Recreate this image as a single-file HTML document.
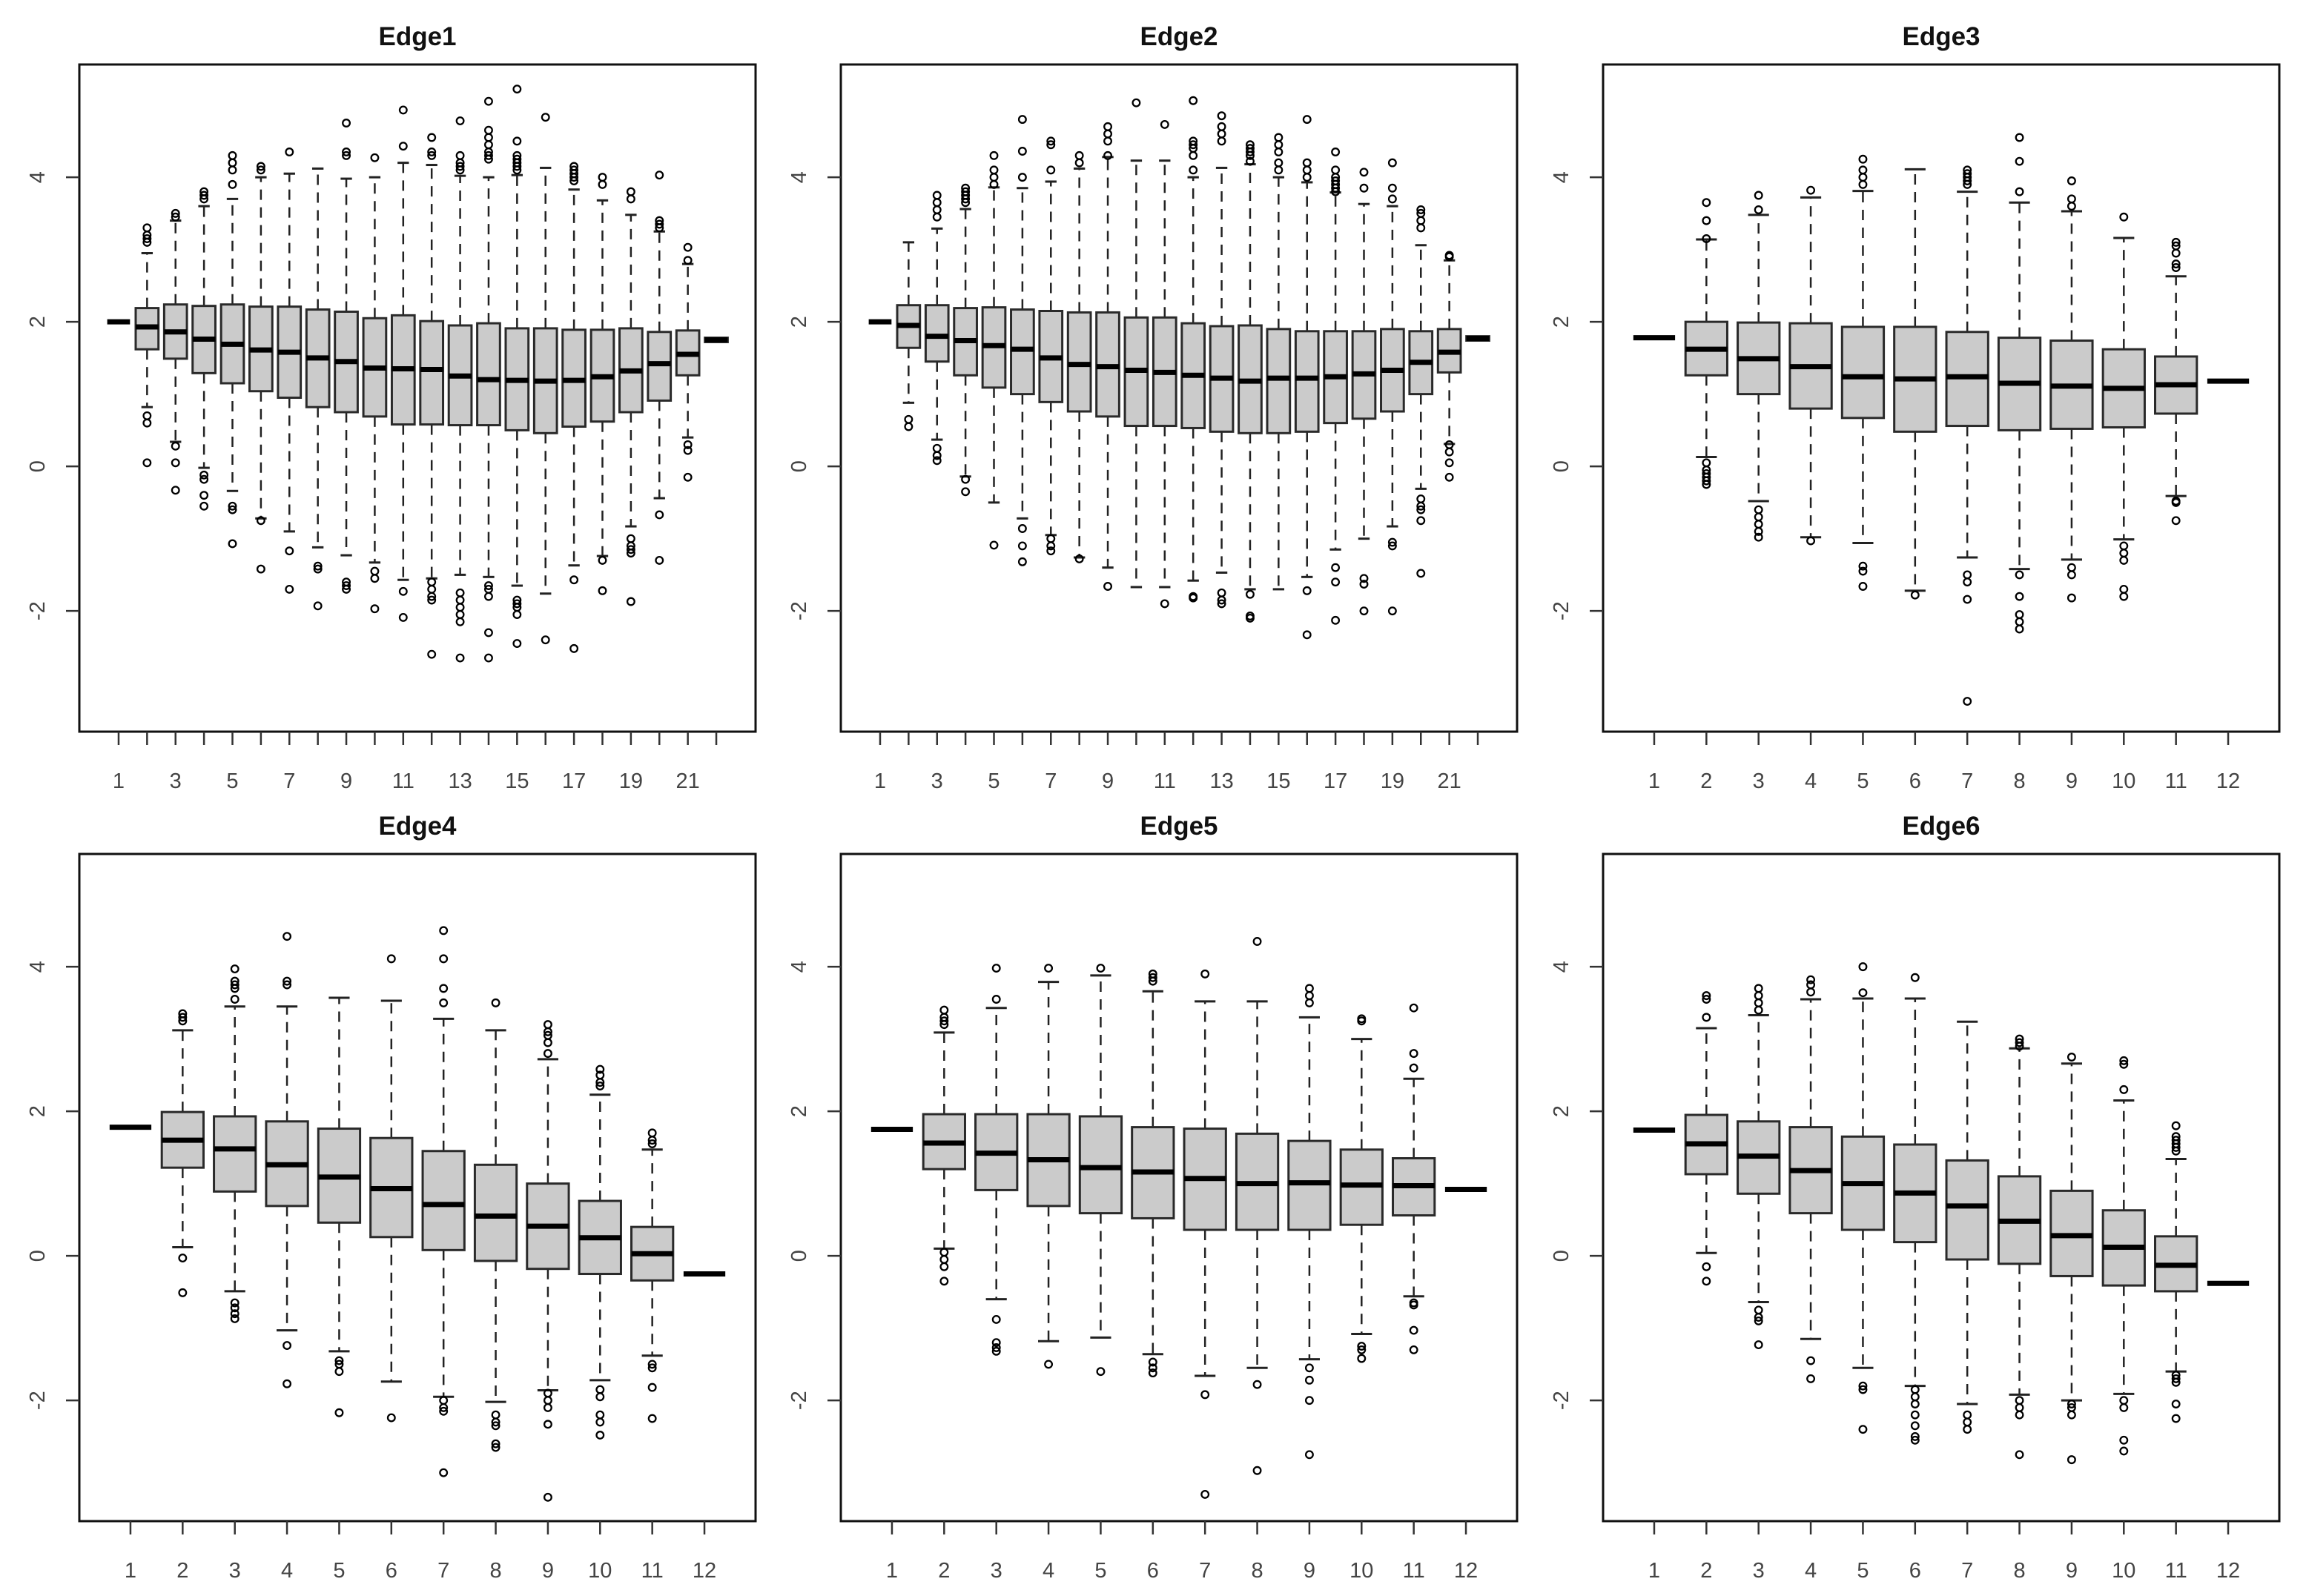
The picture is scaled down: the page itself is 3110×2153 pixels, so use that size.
<!DOCTYPE html>
<html><head><meta charset="utf-8"><style>
html,body{margin:0;padding:0;background:#fff;}
svg{display:block;}
text{font-family:"Liberation Sans",sans-serif;}
</style></head>
<body>
<svg id="chart" width="3110" height="2153" viewBox="0 0 3110 2153" xmlns="http://www.w3.org/2000/svg"></svg>
<script>
// ---- Data (one set of small arrays per panel) ----
const yTicks = [-2, 0, 2, 4];
const yMin = -3.67, yMax = 5.56;

const e1Med = [2.0,1.93,1.86,1.76,1.69,1.61,1.58,1.5,1.45,1.36,1.35,1.34,1.25,1.2,1.19,1.18,1.19,1.24,1.32,1.42,1.55,1.75];
const e1Q1  = [2.0,1.62,1.49,1.29,1.15,1.04,0.95,0.82,0.75,0.69,0.58,0.58,0.57,0.57,0.5,0.46,0.55,0.62,0.75,0.91,1.26,1.72];
const e1Q3  = [2.0,2.19,2.24,2.22,2.24,2.21,2.21,2.17,2.14,2.05,2.09,2.01,1.95,1.98,1.91,1.91,1.89,1.89,1.91,1.86,1.88,1.78];
const e1Lo  = [2.0,0.82,0.34,-0.02,-0.34,-0.72,-0.9,-1.12,-1.23,-1.33,-1.57,-1.55,-1.5,-1.53,-1.65,-1.76,-1.37,-1.24,-0.83,-0.44,0.4,1.72];
const e1Hi  = [2.0,2.95,3.4,3.6,3.7,4.0,4.05,4.12,3.98,4.0,4.2,4.17,4.02,4.0,4.03,4.13,3.83,3.68,3.48,3.25,2.8,1.78];
const e1Out = [[],[3.1,3.15,3.2,3.3,0.6,0.7,0.05],[3.5,3.45,0.28,0.05,-0.33],[3.7,3.75,3.8,-0.12,-0.18,-0.4,-0.55],[3.9,4.1,4.2,4.3,-0.55,-0.6,-1.07],[4.1,4.15,-0.75,-1.42],[4.35,-1.17,-1.7],[-1.38,-1.42,-1.93],[4.3,4.35,4.75,-1.6,-1.65,-1.7],[4.27,-1.45,-1.55,-1.97],[4.43,4.93,-1.73,-2.09],[4.3,4.35,4.55,-1.6,-1.7,-1.8,-1.85,-2.6],[4.1,4.15,4.2,4.3,4.78,-1.75,-1.85,-1.95,-2.05,-2.15,-2.65],[4.25,4.3,4.35,4.45,4.55,4.65,5.05,-1.65,-1.7,-1.8,-2.3,-2.65],[4.1,4.15,4.2,4.25,4.3,4.5,5.22,-1.85,-1.9,-1.95,-2.05,-2.45],[4.83,-2.4],[3.95,4.0,4.05,4.1,4.15,-1.57,-2.52],[3.9,4.0,-1.3,-1.72],[3.7,3.8,-1.0,-1.1,-1.15,-1.2,-1.87],[3.3,3.35,3.4,4.03,-0.67,-1.3],[2.85,3.03,0.3,0.22,-0.15],[]];

const e2Med = [2.0,1.95,1.8,1.74,1.67,1.62,1.5,1.41,1.38,1.33,1.3,1.26,1.22,1.18,1.22,1.22,1.24,1.28,1.33,1.44,1.58,1.77];
const e2Q1  = [2.0,1.64,1.45,1.26,1.09,1.0,0.89,0.76,0.69,0.56,0.56,0.53,0.48,0.46,0.46,0.48,0.6,0.66,0.76,1.0,1.3,1.74];
const e2Q3  = [2.0,2.23,2.23,2.19,2.2,2.17,2.15,2.13,2.13,2.06,2.06,1.98,1.94,1.95,1.9,1.87,1.87,1.87,1.9,1.87,1.9,1.8];
const e2Lo  = [2.0,0.88,0.37,-0.14,-0.5,-0.72,-0.95,-1.26,-1.4,-1.67,-1.67,-1.58,-1.47,-1.7,-1.7,-1.53,-1.15,-1.0,-0.83,-0.31,0.31,1.74];
const e2Hi  = [2.0,3.1,3.29,3.56,3.86,3.85,3.94,4.12,4.28,4.23,4.23,4.0,4.13,4.18,4.0,3.93,3.79,3.63,3.6,3.06,2.85,1.8];
const e2Out = [[],[0.65,0.55],[3.45,3.55,3.65,3.75,0.25,0.15,0.08],[3.65,3.7,3.75,3.8,3.85,-0.18,-0.35],[3.9,4.0,4.1,4.3,-1.09],[4.0,4.36,4.8,-0.86,-1.1,-1.32],[4.1,4.45,4.5,-1.0,-1.1,-1.17],[4.2,4.3,-1.28],[4.3,4.5,4.6,4.7,-1.66],[5.03],[4.73,-1.9],[4.1,4.3,4.4,4.45,4.5,5.06,-1.8,-1.82],[4.5,4.6,4.7,4.85,-1.75,-1.85,-1.9],[4.22,4.3,4.35,4.4,4.45,-1.77,-2.07,-2.1],[4.1,4.2,4.35,4.45,4.55],[4.0,4.1,4.2,4.8,-1.72,-2.33],[3.8,3.85,3.9,3.95,4.0,4.1,4.35,-1.4,-1.6,-2.13],[3.85,4.07,-1.55,-1.63,-2.0],[3.7,3.85,4.2,-1.05,-1.1,-2.0],[3.3,3.4,3.5,3.55,-0.45,-0.55,-0.6,-0.75,-1.48],[2.9,2.92,0.3,0.2,0.05,-0.15],[]];

const e3Med = [1.78,1.62,1.49,1.38,1.24,1.21,1.24,1.15,1.11,1.08,1.13,1.18];
const e3Q1  = [1.78,1.26,1.0,0.8,0.67,0.48,0.56,0.5,0.52,0.54,0.73,1.16];
const e3Q3  = [1.78,2.0,1.99,1.98,1.93,1.93,1.86,1.78,1.74,1.62,1.52,1.2];
const e3Lo  = [1.78,0.13,-0.48,-0.98,-1.06,-1.72,-1.26,-1.42,-1.29,-1.01,-0.41,1.16];
const e3Hi  = [1.78,3.14,3.48,3.72,3.81,4.11,3.8,3.65,3.53,3.16,2.63,1.2];
const e3Out = [[],[3.15,3.4,3.65,0.05,-0.05,-0.1,-0.15,-0.2,-0.25],[3.55,3.75,-0.6,-0.7,-0.8,-0.9,-0.98],[3.82,-1.03],[3.9,4.0,4.1,4.25,-1.38,-1.45,-1.66],[-1.78],[3.9,3.95,4.0,4.05,4.1,-1.5,-1.6,-1.84,-3.25],[3.8,4.22,4.55,-1.5,-1.8,-2.05,-2.15,-2.25],[3.6,3.7,3.95,-1.4,-1.5,-1.82],[3.45,-1.1,-1.2,-1.3,-1.7,-1.8],[2.75,2.8,2.95,3.05,3.1,-0.48,-0.5,-0.75],[]];

const e4Med = [1.78,1.6,1.48,1.26,1.09,0.93,0.71,0.55,0.41,0.25,0.03,-0.25];
const e4Q1  = [1.78,1.22,0.89,0.69,0.46,0.26,0.08,-0.07,-0.18,-0.25,-0.34,-0.27];
const e4Q3  = [1.78,1.99,1.93,1.86,1.76,1.63,1.45,1.26,1.0,0.76,0.4,-0.23];
const e4Lo  = [1.78,0.12,-0.49,-1.03,-1.32,-1.74,-1.95,-2.02,-1.86,-1.72,-1.38,-0.27];
const e4Hi  = [1.78,3.12,3.45,3.45,3.57,3.53,3.28,3.12,2.72,2.23,1.47,-0.23];
const e4Out = [[],[3.25,3.3,3.35,-0.03,-0.51],[3.55,3.7,3.75,3.8,3.97,-0.65,-0.72,-0.8,-0.87],[3.75,3.8,4.42,-1.24,-1.77],[-1.45,-1.5,-1.6,-2.17],[4.11,-2.24],[3.5,3.7,4.11,4.5,-2.0,-2.1,-2.15,-3.0],[3.5,-2.2,-2.3,-2.35,-2.6,-2.65],[2.8,2.95,3.05,3.1,3.2,-1.9,-2.0,-2.1,-2.33,-3.34],[2.35,2.4,2.5,2.58,-1.85,-1.95,-2.2,-2.3,-2.48],[1.55,1.6,1.7,-1.5,-1.55,-1.82,-2.25],[]];

const e5Med = [1.75,1.56,1.42,1.33,1.22,1.16,1.07,1.0,1.01,0.98,0.97,0.92];
const e5Q1  = [1.75,1.2,0.91,0.69,0.59,0.52,0.36,0.36,0.36,0.43,0.56,0.9];
const e5Q3  = [1.75,1.96,1.96,1.96,1.93,1.78,1.76,1.69,1.59,1.47,1.35,0.94];
const e5Lo  = [1.75,0.1,-0.6,-1.18,-1.13,-1.36,-1.66,-1.55,-1.43,-1.08,-0.56,0.9];
const e5Hi  = [1.75,3.09,3.43,3.79,3.88,3.66,3.52,3.52,3.3,3.0,2.45,0.94];
const e5Out = [[],[3.2,3.25,3.3,3.4,0.05,-0.05,-0.15,-0.35],[3.55,3.98,-0.88,-1.2,-1.27,-1.32],[3.98,-1.5],[3.98,-1.6],[3.8,3.85,3.9,-1.47,-1.55,-1.62],[3.9,-1.92,-3.3],[4.35,-1.78,-2.97],[3.5,3.6,3.7,-1.55,-1.72,-2.0,-2.75],[3.25,3.28,-1.25,-1.3,-1.42],[2.6,2.8,3.43,-0.65,-0.68,-1.03,-1.3],[]];

const e6Med = [1.74,1.55,1.38,1.18,1.0,0.87,0.69,0.48,0.28,0.12,-0.13,-0.38];
const e6Q1  = [1.74,1.13,0.86,0.59,0.36,0.19,-0.05,-0.11,-0.28,-0.41,-0.49,-0.4];
const e6Q3  = [1.74,1.95,1.86,1.78,1.65,1.54,1.32,1.1,0.9,0.63,0.27,-0.36];
const e6Lo  = [1.74,0.04,-0.64,-1.15,-1.55,-1.8,-2.05,-1.92,-2.0,-1.91,-1.6,-0.4];
const e6Hi  = [1.74,3.15,3.33,3.55,3.56,3.56,3.24,2.87,2.66,2.15,1.34,-0.36];
const e6Out = [[],[3.3,3.55,3.6,-0.15,-0.35],[3.4,3.5,3.6,3.7,-0.75,-0.85,-0.9,-1.23],[3.65,3.75,3.82,-1.45,-1.7],[3.64,4.0,-1.8,-1.85,-2.4],[3.85,-1.85,-1.95,-2.05,-2.2,-2.35,-2.5,-2.55],[-2.2,-2.3,-2.4],[2.9,2.95,3.0,-2.0,-2.1,-2.2,-2.75],[2.75,-2.05,-2.1,-2.2,-2.82],[2.3,2.65,2.7,-2.0,-2.1,-2.55,-2.7],[1.45,1.5,1.55,1.6,1.65,1.8,-1.65,-1.7,-1.75,-2.05,-2.25],[]];

const titles = ["Edge1","Edge2","Edge3","Edge4","Edge5","Edge6"];

// ---- Rendering ----
const NS = "http://www.w3.org/2000/svg";
const svg = document.getElementById("chart");
function mk(tag, attrs, parent){
  const el = document.createElementNS(NS, tag);
  for (const k in attrs) el.setAttribute(k, attrs[k]);
  (parent||svg).appendChild(el);
  return el;
}
const panels = [
  {left:107, top:87, med:e1Med,q1:e1Q1,q3:e1Q3,lo:e1Lo,hi:e1Hi,out:e1Out},
  {left:1134,top:87, med:e2Med,q1:e2Q1,q3:e2Q3,lo:e2Lo,hi:e2Hi,out:e2Out},
  {left:2162,top:87, med:e3Med,q1:e3Q1,q3:e3Q3,lo:e3Lo,hi:e3Hi,out:e3Out},
  {left:107, top:1152,med:e4Med,q1:e4Q1,q3:e4Q3,lo:e4Lo,hi:e4Hi,out:e4Out},
  {left:1134,top:1152,med:e5Med,q1:e5Q1,q3:e5Q3,lo:e5Lo,hi:e5Hi,out:e5Out},
  {left:2162,top:1152,med:e6Med,q1:e6Q1,q3:e6Q3,lo:e6Lo,hi:e6Hi,out:e6Out}
];
const W = 912, H = 900;
panels.forEach((p, pi) => {
  const n = p.med.length;
  const x0 = 0.5 - 0.04*n, x1 = n + 0.5 + 0.04*n;
  const xs = v => p.left + (v - x0) / (x1 - x0) * W;
  const ys = v => p.top + (yMax - v) / (yMax - yMin) * H;
  const unit = W / (x1 - x0);
  const g = mk("g", {});
  
  

  const t = mk("text", {x: p.left + W/2, y: p.top - 26, "text-anchor":"middle", "font-size":"35", "font-weight":"bold", fill:"#111"}, g);
  t.textContent = titles[pi];
  
  

  for (let i = 0; i < n; i++) {
    const cx = xs(i+1);
    const med = p.med[i], q1 = p.q1[i], q3 = p.q3[i], lo = p.lo[i], hi = p.hi[i];
    const bw = unit*0.8, sw = bw/2;
    const bg = mk("g", {}, g);
    
    
    const dash = {stroke:"#222", "stroke-width":"2.5", "stroke-dasharray":"14 10"};
    if (hi > q3) {
      mk("line", Object.assign({x1:cx, x2:cx, y1:ys(q3), y2:ys(hi)}, dash), bg);
      mk("line", {x1:cx-sw/2, x2:cx+sw/2, y1:ys(hi), y2:ys(hi), stroke:"#222","stroke-width":"3"}, bg);
    }
    if (lo < q1) {
      mk("line", Object.assign({x1:cx, x2:cx, y1:ys(q1), y2:ys(lo)}, dash), bg);
      mk("line", {x1:cx-sw/2, x2:cx+sw/2, y1:ys(lo), y2:ys(lo), stroke:"#222","stroke-width":"3"}, bg);
    }
    if (q3 > q1 + 0.05) {
      const r = mk("rect", {x:cx-bw/2, y:ys(q3), width:bw, height:ys(q1)-ys(q3), fill:"#cbcbcb", stroke:"#2a2a2a", "stroke-width":"3"}, bg);
      
      
    }
    const m = mk("line", {x1:cx-bw/2, x2:cx+bw/2, y1:ys(med), y2:ys(med), stroke:"#000", "stroke-width":"7"}, bg);
    
    
    p.out[i].forEach(v => {
      const c = mk("circle", {cx:cx, cy:ys(v), r:4.8, fill:"none", stroke:"#000", "stroke-width":"2.3"}, bg);
      
      
    });
  }

  const fr = mk("rect", {x:p.left, y:p.top, width:W, height:H, fill:"none", stroke:"#111", "stroke-width":"3"}, g);
  
  

  yTicks.forEach(v => {
    mk("line", {x1:p.left-18, x2:p.left, y1:ys(v), y2:ys(v), stroke:"#333", "stroke-width":"2.5"}, g);
    const lx = p.left - 47, ly = ys(v);
    const yl = mk("text", {x:lx, y:ly, "text-anchor":"middle", "font-size":"29", fill:"#444", transform:`rotate(-90 ${lx} ${ly})`}, g);
    yl.textContent = String(v);
    
    
  });

  for (let i = 1; i <= n; i++) {
    mk("line", {x1:xs(i), x2:xs(i), y1:p.top+H, y2:p.top+H+18, stroke:"#333", "stroke-width":"2.5"}, g);
    if (n > 12 && i % 2 === 0) continue;
    const xl = mk("text", {x:xs(i), y:p.top+H+76, "text-anchor":"middle", "font-size":"29", fill:"#444"}, g);
    xl.textContent = String(i);
    
    
  }
});
</script>
</body></html>
